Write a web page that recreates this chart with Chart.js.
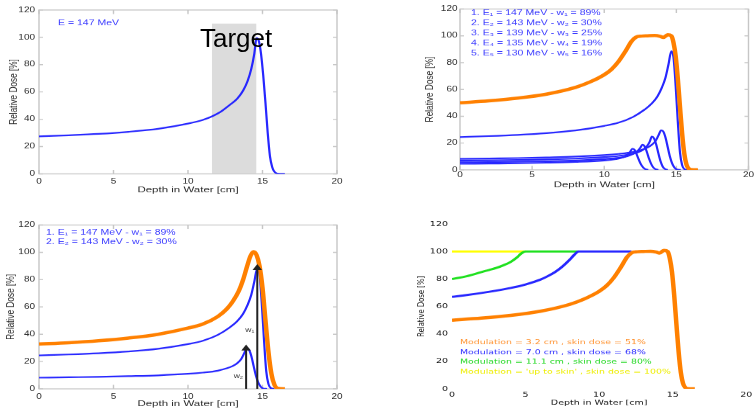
<!DOCTYPE html>
<html>
<head>
<meta charset="utf-8">
<script src="https://cdn.jsdelivr.net/npm/chart.js@4.4.1/dist/chart.umd.min.js"></script>
<style>
  html, body { margin: 0; padding: 0; background: #fff; }
  #wrap { position: relative; width: 755px; height: 412px; overflow: hidden; }
  /* the original figures are squeezed vertically, so the canvases are too */
  canvas { position: absolute; left: 0; top: 0; transform: scaleY(0.72); transform-origin: 0 0; }
  #target { position: absolute; left: 200px; top: 25px; font: 26px "Liberation Sans", Arial, sans-serif; line-height: 26px; color: #000; }
</style>
</head>
<body>
<div id="wrap">
  <canvas id="c1" width="755" height="572"></canvas>
  <canvas id="c2" width="755" height="572"></canvas>
  <canvas id="c3" width="755" height="572"></canvas>
  <canvas id="c4" width="755" height="572"></canvas>
  <div id="target">Target</div>
</div>
<script>
// depth in cm, relative dose in %
const xTicks = [0, 5, 10, 15, 20];
const yTicks = [0, 20, 40, 60, 80, 100, 120];

// single 147 MeV Bragg curve (top left)
const depth147 = [0, 2, 4, 6, 8, 10, 11, 11.6, 12.2, 12.8, 13.3, 13.7, 14.0, 14.25, 14.45, 14.6, 14.75, 14.9, 15.05, 15.2, 15.35, 15.5, 15.65, 15.8, 16.0, 16.5];
const dose147  = [27.5, 28.3, 29.3, 30.8, 33, 36.8, 39.5, 42, 45.5, 50.5, 55, 61, 68, 77, 88, 99.5, 97.5, 88, 72, 52, 30, 13, 5, 1.5, 0.2, 0];
const targetRange = [11.6, 14.6];
const targetTop = 110;

// spread out Bragg peak (top right, bottom right)
const sobpDepth = [0, 2, 4, 6, 8, 9, 10, 10.5, 11, 11.5, 11.9, 12.2, 12.6, 13, 13.5, 13.9, 14.1, 14.4, 14.65, 14.8, 14.95, 15.1, 15.25, 15.4, 15.55, 15.7, 15.85, 16.0, 16.5];
const sobpDose  = [50, 51.5, 53.5, 56.5, 61.5, 65.5, 71, 75, 81, 89, 96, 99, 99.8, 100, 100.2, 99.5, 98.8, 100.8, 100, 95, 85, 68, 47, 27, 12, 4, 1, 0.2, 0];

// weighted pristine peaks
const energies = [147, 143, 139, 135, 130];
const weights  = [89, 30, 25, 19, 16];
const peak1Depth = [0, 2, 4, 6, 8, 10, 11, 12, 12.8, 13.3, 13.7, 14.0, 14.25, 14.45, 14.65, 14.8, 14.95, 15.1, 15.25, 15.4, 15.55, 15.8];
const peak1Dose  = [24.5, 25.2, 26.1, 27.4, 29.4, 32.8, 35.2, 39.5, 45, 49.5, 55, 61.5, 69, 78.5, 88.5, 84, 63, 36, 13, 3.5, 0.6, 0];
const peak2Depth = [0, 2, 4, 6, 8, 10, 11, 12, 12.6, 13.0, 13.3, 13.55, 13.75, 13.95, 14.1, 14.25, 14.4, 14.55, 14.7, 14.85, 15.0, 15.3];
const peak2Dose  = [8.2, 8.5, 8.8, 9.3, 9.9, 11, 11.9, 13.3, 15, 16.7, 18.7, 21.5, 25.5, 29.5, 28.5, 24, 17, 10, 5, 2, 0.5, 0];
const peak3Depth = [0, 2, 4, 6, 8, 10, 11, 11.7, 12.3, 12.7, 12.95, 13.15, 13.3, 13.45, 13.6, 13.75, 13.9, 14.05, 14.2, 14.4];
const peak3Dose  = [6.9, 7.1, 7.4, 7.8, 8.4, 9.5, 10.4, 11.5, 13, 15, 17.5, 21, 24.8, 23.5, 19, 12.5, 6.5, 2.5, 0.7, 0];
const peak4Depth = [0, 2, 4, 6, 8, 10, 11, 11.6, 12.0, 12.3, 12.5, 12.65, 12.8, 12.95, 13.1, 13.25, 13.4, 13.55, 13.75];
const peak4Dose  = [5.6, 5.8, 6.0, 6.4, 7.0, 8.1, 9.0, 10.2, 11.8, 14, 16.5, 18.8, 17.5, 13.5, 8.5, 4.5, 1.8, 0.5, 0];
const peak5Depth = [0, 2, 4, 6, 8, 10, 10.8, 11.3, 11.6, 11.8, 11.95, 12.1, 12.25, 12.4, 12.55, 12.7, 12.85, 13.05];
const peak5Dose  = [4.5, 4.7, 4.9, 5.3, 5.9, 7.0, 8.0, 9.3, 11, 13.5, 15.8, 15, 11.5, 7.5, 4, 1.8, 0.5, 0];

// sum of the first two peaks (bottom left)
const sumDepth = [0, 2, 4, 6, 8, 10, 11, 12, 12.6, 13.0, 13.4, 13.7, 14.0, 14.2, 14.4, 14.6, 14.8, 15.0, 15.2, 15.4, 15.6, 15.8, 16.0, 16.5];
const sumDose  = [32.8, 33.8, 35.2, 37.2, 40, 44.5, 47.5, 53, 58.5, 64, 71.5, 80, 91, 97.5, 100.5, 98, 90, 74, 50, 27, 11, 3, 0.5, 0];
const arrowDepth = [14.65, 13.9];
const arrowTop   = [88.5, 29.5];
const arrowLabel = ['w₁', 'w₂'];
const arrowLabelY = [43, 9];

// longer modulations (bottom right)
const mod7Depth  = [0, 1, 2, 3, 4, 5, 6, 6.5, 7, 7.5, 8, 8.3, 8.6, 10, 12.2];
const mod7Dose   = [67, 68.3, 69.8, 71.5, 73.5, 76, 79.5, 82, 85, 89, 94, 97.5, 100, 100, 100];
const mod11Depth = [0, 1, 2, 2.5, 3, 3.5, 4, 4.4, 4.7, 5.0, 7, 8.6];
const mod11Dose  = [80, 82, 85, 86.5, 88, 90, 92.5, 95.5, 98.5, 100, 100, 100];
const skinDepth  = [0, 5];
const skinDose   = [100, 100];
const modLabels  = [
  'Modulation = 3.2 cm , skin dose = 51%',
  'Modulation = 7.0 cm , skin dose = 68%',
  'Modulation = 11.1 cm , skin dose = 80%',
  "Modulation = 'up to skin' , skin dose = 100%"
];

const S = 0.72, W = 755, H = 412;
const BLUE = '#2626ff', ORANGE = '#ff8000', GREEN = '#1ee01e', YELLOW = '#ffff00';
const subs = ['₁', '₂', '₃', '₄', '₅'];
const matlabFont = '"Liberation Sans", Arial, sans-serif';

function line(xs, ys, color, width, extra) {
  return Object.assign({
    data: xs.map((x, i) => ({ x: x, y: ys[i] })),
    borderColor: color, borderWidth: width, pointRadius: 0,
    fill: false, cubicInterpolationMode: 'monotone'
  }, extra || {});
}

function decor(frame, texts) {
  return {
    id: 'decor',
    beforeDatasetsDraw(chart) {
      if (!frame) return;
      const { ctx, chartArea: a, scales: { x, y } } = chart;
      ctx.save();
      ctx.strokeStyle = '#c6c6c6';
      ctx.lineWidth = 1.4;
      ctx.strokeRect(a.left, a.top, a.right - a.left, a.bottom - a.top);
      ctx.beginPath();
      xTicks.forEach(v => {
        const px = x.getPixelForValue(v);
        ctx.moveTo(px, a.bottom); ctx.lineTo(px, a.bottom - 4 / S);
        ctx.moveTo(px, a.top); ctx.lineTo(px, a.top + 4 / S);
      });
      yTicks.forEach(v => {
        const py = y.getPixelForValue(v);
        ctx.moveTo(a.left, py); ctx.lineTo(a.left + 4, py);
        ctx.moveTo(a.right, py); ctx.lineTo(a.right - 4, py);
      });
      ctx.stroke();
      ctx.restore();
    },
    afterDatasetsDraw(chart) {
      const ctx = chart.ctx;
      texts.forEach(t => {
        ctx.save();
        ctx.font = t.font;
        ctx.fillStyle = t.color;
        ctx.textAlign = t.align || 'left';
        ctx.textBaseline = 'middle';
        let px = t.x, py = t.y / S;
        if (t.data) {
          px = chart.scales.x.getPixelForValue(t.x) + (t.dx || 0);
          py = chart.scales.y.getPixelForValue(t.y);
        }
        ctx.fillText(t.text, px, py);
        ctx.restore();
      });
    }
  };
}

// p.plot is the plot box on the page; offsets are page pixels
function panel(id, p) {
  const [L, T, R, B] = p.plot;
  const tickFont = { family: p.family, size: p.tickSize };
  const titleFont = { family: p.family, size: p.titleSize };
  const yw = L - p.yTitleX + p.titleSize * 0.6;
  const xh = p.xTitleOff / S + p.titleSize * 0.6;
  const xPad = p.xLabelOff / S - p.tickSize * 0.6;
  new Chart(document.getElementById(id), {
    type: 'line',
    data: { datasets: p.datasets },
    options: {
      responsive: false,
      animation: false,
      events: [],
      layout: { padding: { left: L - yw, top: T / S, right: W - R, bottom: (H - B) / S - xh } },
      plugins: { legend: { display: false }, tooltip: { enabled: false } },
      scales: {
        x: {
          type: 'linear', min: 0, max: 20,
          grid: { display: false, drawTicks: false },
          border: { display: false },
          ticks: { stepSize: 5, font: tickFont, color: p.tickColor, padding: xPad, maxRotation: 0 },
          title: { display: true, text: 'Depth in Water [cm]', font: titleFont, color: p.tickColor, padding: 0 },
          afterFit(s) { s.height = xh; }
        },
        y: {
          min: 0, max: 120,
          grid: { display: false, drawTicks: false },
          border: { display: false },
          ticks: { stepSize: 20, font: tickFont, color: p.tickColor, padding: p.yPad },
          title: { display: true, text: 'Relative Dose [%]', font: titleFont, color: p.tickColor, padding: 0 },
          afterFit(s) { s.width = yw; }
        }
      }
    },
    plugins: [decor(p.frame, p.texts)]
  });
}

const mFont = '10.5px ' + matlabFont;

// top left
panel('c1', {
  plot: [39, 10, 337, 174], yTitleX: 14, xTitleOff: 16, xLabelOff: 8, yPad: 4,
  family: matlabFont, tickSize: 10, titleSize: 11.5, tickColor: '#2a2a2a', frame: true,
  datasets: [
    line(depth147, dose147, BLUE, 2.2),
    line(targetRange, [targetTop, targetTop], '#dcdcdc', 0,
      { fill: 'origin', backgroundColor: '#dcdcdc', cubicInterpolationMode: 'default', order: 2 })
  ],
  texts: [{ text: 'E = 147 MeV', x: 58, y: 23.3, color: '#3a3aff', font: mFont }]
});

// top right
panel('c2', {
  plot: [460, 9, 751, 170], yTitleX: 430, xTitleOff: 15, xLabelOff: 5, yPad: 2.5,
  family: matlabFont, tickSize: 10, titleSize: 11.5, tickColor: '#2a2a2a', frame: true,
  datasets: [
    line(sobpDepth, sobpDose, ORANGE, 4.5),
    line(peak1Depth, peak1Dose, BLUE, 2.2),
    line(peak2Depth, peak2Dose, BLUE, 2.2),
    line(peak3Depth, peak3Dose, BLUE, 2.2),
    line(peak4Depth, peak4Dose, BLUE, 2.2),
    line(peak5Depth, peak5Dose, BLUE, 2.2)
  ],
  texts: energies.map((e, i) => ({
    text: (i + 1) + '. E' + subs[i] + ' = ' + e + ' MeV - w' + subs[i] + ' = ' + weights[i] + '%',
    x: 471, y: 13.3 + 10 * i, color: '#3a3aff', font: mFont
  }))
});

// bottom left
const arrows = arrowDepth.map((d, i) => line([d, d], [0, arrowTop[i]], '#222', 2, {
  cubicInterpolationMode: 'default', pointRadius: [0, 3.5], pointStyle: 'triangle',
  pointBackgroundColor: '#222', pointBorderColor: '#222', order: -1
}));
panel('c3', {
  plot: [39, 225, 337, 389], yTitleX: 11, xTitleOff: 15, xLabelOff: 8, yPad: 4,
  family: matlabFont, tickSize: 10, titleSize: 11.5, tickColor: '#2a2a2a', frame: true,
  datasets: [
    line(sumDepth, sumDose, ORANGE, 4.5),
    line(peak1Depth, peak1Dose, BLUE, 2.2),
    line(peak2Depth, peak2Dose, BLUE, 2.2)
  ].concat(arrows),
  texts: [0, 1].map(i => ({
    text: (i + 1) + '. E' + subs[i] + ' = ' + energies[i] + ' MeV - w' + subs[i] + ' = ' + weights[i] + '%',
    x: 46, y: 232.3 + 10 * i, color: '#3a3aff', font: mFont
  })).concat(arrowDepth.map((d, i) => ({
    text: arrowLabel[i], data: true, x: d, dx: -3, y: arrowLabelY[i],
    align: 'right', color: '#333', font: '8.5px ' + matlabFont
  })))
});

// bottom right
const modColors = ['#ff9433', '#2a2aff', '#22d822', '#eeee00'];
panel('c4', {
  plot: [452, 224, 751, 389], yTitleX: 422, xTitleOff: 14, xLabelOff: 6, yPad: 4,
  family: '"DejaVu Sans", Verdana, sans-serif', tickSize: 9.5, titleSize: 9.5, tickColor: '#111', frame: false,
  datasets: [
    line(sobpDepth, sobpDose, ORANGE, 4.5),
    line(mod7Depth, mod7Dose, BLUE, 3),
    line(mod11Depth, mod11Dose, GREEN, 3),
    line(skinDepth, skinDose, YELLOW, 3)
  ],
  texts: modLabels.map((t, i) => ({
    text: t, x: 460, y: 342.7 + 9.7 * i, color: modColors[i],
    font: '9.4px "DejaVu Sans", Verdana, sans-serif'
  }))
});
</script>
</body>
</html>
